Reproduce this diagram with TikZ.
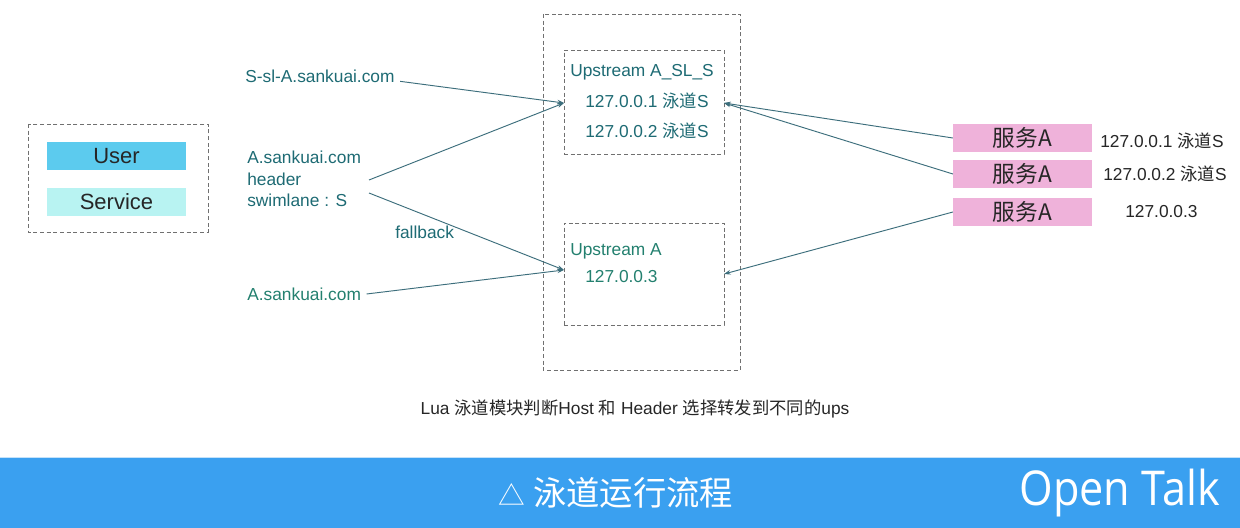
\documentclass[tikz,border=0pt]{standalone}
\usepackage{fontspec}
\setmainfont{Liberation Sans}
\newfontfamily\cjk{Noto Sans CJK SC}
\newfontfamily\otfont{Open Sans}
\usetikzlibrary{arrows.meta}
\definecolor{teal1}{HTML}{1E6B74}
\definecolor{teal2}{HTML}{23806F}
\definecolor{linec}{HTML}{3C6E7C}
\definecolor{userc}{HTML}{5CCBEE}
\definecolor{servc}{HTML}{B8F3F2}
\definecolor{pinkc}{HTML}{EFB2DA}
\definecolor{bandc}{HTML}{3AA0F0}
\definecolor{dashc}{HTML}{707070}
\tikzset{
  dbox/.style={draw=dashc, densely dashed, line width=0.6pt},
  lbl/.style={text=teal1, font=\fontsize{13}{15}\selectfont, inner sep=0pt, anchor=west},
  bar/.style={minimum width=104pt, minimum height=21pt, inner sep=0pt, font=\fontsize{16.5}{18}\selectfont},
  conn/.style={draw=linec, line width=0.7pt, -{Stealth[length=5pt,width=3.5pt]}},
  iplbl/.style={text=black!85, font=\fontsize{13}{15}\selectfont, inner sep=0pt, anchor=west},
  svc/.style={bar, fill=pinkc, text=black!85, font=\cjk\fontsize{17}{19}\selectfont},
}
\begin{document}
\begin{tikzpicture}[x=0.75pt,y=-0.75pt]
\useasboundingbox (0,0) rectangle (1240,528);
\fill[white] (0,0) rectangle (1240,528);
% left legend box
\draw[dbox] (28,124) rectangle (208,232);
\node[bar, fill=userc, text=black!85] (user) at (116.5,156) {User};
\node[bar, fill=servc, text=black!85] (serv) at (116.5,202) {Service};
% left labels
\node[lbl] (ssl) at (245,76) {S-sl-A.sankuai.com};
\node[lbl] (ah1) at (247,157) {A.sankuai.com};
\node[lbl] (ah2) at (247,179) {header};
\node[lbl] (ah3) at (247,200) {swimlane : S};
\node[lbl, text=teal1] (fb) at (395,232) {fallback};
\node[lbl, text=teal2] (ab) at (247,294) {A.sankuai.com};
\coordinate (h1) at (369,180);
\coordinate (h2) at (369,193);
% middle boxes
\draw[dbox] (543,14) rectangle (740,370);
\node[dbox, minimum width=120pt, minimum height=78pt, inner sep=0pt] (up1) at (644,102) {};
\node[dbox, minimum width=120pt, minimum height=76.5pt, inner sep=0pt] (up2) at (644,274) {};
\node[lbl] (u1t) at (570,72) {Upstream A\_SL\_S};
\node[lbl] (u1a) at (585,101) {127.0.0.1 {\cjk 泳道}S};
\node[lbl] (u1b) at (585,131) {127.0.0.2 {\cjk 泳道}S};
\node[lbl, text=teal2] (u2t) at (570,251) {Upstream A};
\node[lbl, text=teal2] (u2a) at (585,277) {127.0.0.3};
\coordinate (in1) at (564,103);
\coordinate (in2) at (564,270);
\coordinate (out1) at (724,103);
\coordinate (out2) at (724,274);
% pink boxes
\node[svc] (s1) at (1022.5,138) {服务A};
\node[svc] (s2) at (1022.5,174) {服务A};
\node[svc] (s3) at (1022.5,212) {服务A};
\node[iplbl] (ip1) at (1100,141) {127.0.0.1 {\cjk 泳道}S};
\node[iplbl] (ip2) at (1103,174) {127.0.0.2 {\cjk 泳道}S};
\node[iplbl] (ip3) at (1125,212) {127.0.0.3};
% connectors
\draw[conn] ([xshift=4pt,yshift=-4pt]ssl.east) -- (in1);
\draw[conn] (h1) -- (in1);
\draw[conn] (h2) -- (in2);
\draw[conn] ([xshift=4pt]ab.east) -- (in2);
\draw[conn] (s1.west) -- (out1);
\draw[conn] (s2.west) -- (out1);
\draw[conn] (s3.west) -- (out2);
% caption
\node[text=black!85, font=\fontsize{13}{15}\selectfont] (cap) at (635,409) {Lua {\cjk 泳道模块判断}Host {\cjk 和} Header {\cjk 选择转发到不同的}ups};
% footer band
\fill[bandc] (0,457) rectangle (1240,528);
\draw[white!70!bandc, line width=1pt] (0,457.5) -- (1240,457.5);
\node[text=white, font=\cjk\fontsize{25}{28}\selectfont] (foot) at (616,493) {{\fontsize{20}{24}\selectfont △} 泳道运行流程};
\node[text=white, font=\otfont\fontsize{36}{40}\selectfont, anchor=east, inner sep=0pt] (ot) at (1220,493) {\addfontfeature{FakeStretch=0.9}Open Talk};
\end{tikzpicture}
\end{document}
